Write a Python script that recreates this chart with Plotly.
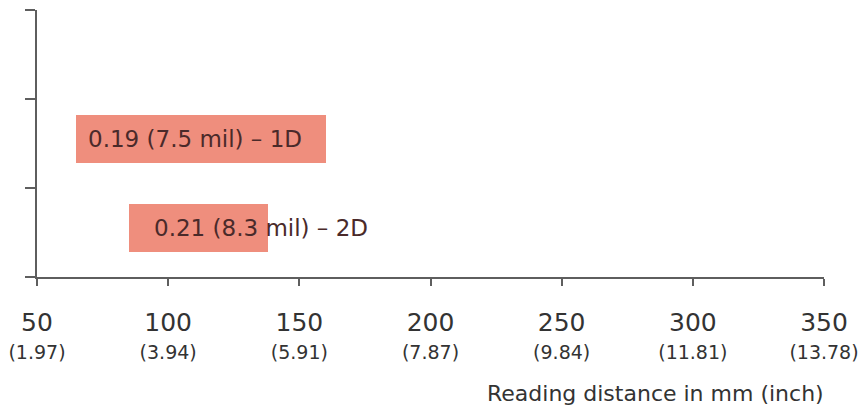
import plotly.graph_objects as go

# ---- data ----
labels = ["0.19 (7.5 mil) – 1D", "0.21 (8.3 mil) – 2D"]
range_start_mm = [65, 85]
range_end_mm = [160, 138]
x_ticks_mm = [50, 100, 150, 200, 250, 300, 350]
x_ticks_inch = ["1.97", "3.94", "5.91", "7.87", "9.84", "11.81", "13.78"]

# ---- style ----
label_offsets_px = [10, 23]
bar_color = "#EF8E7D"
axis_color = "#5e5e5e"
text_color = "#333333"
font_family = "DejaVu Sans, sans-serif"

n = len(labels)
y_pos = [n - i - 0.45 for i in range(n)]
widths = [e - s for s, e in zip(range_start_mm, range_end_mm)]

fig = go.Figure()
fig.add_trace(go.Bar(
    y=y_pos, x=widths, base=range_start_mm, orientation="h",
    width=0.53, marker=dict(color=bar_color, line=dict(width=0)),
    hoverinfo="skip", showlegend=False,
))

for yp, s, lab, off in zip(y_pos, range_start_mm, labels, label_offsets_px):
    fig.add_annotation(
        x=s, y=yp, xref="x", yref="y", text=lab, showarrow=False,
        xanchor="left", yanchor="middle", xshift=off,
        font=dict(size=23, color="#4a2a2a", family=font_family),
    )

tick_text = [f"<span style='font-size:25px'>{mm}</span><br>"
             f"<span style='font-size:19px'>({inch})</span>"
             for mm, inch in zip(x_ticks_mm, x_ticks_inch)]

fig.update_xaxes(
    range=[x_ticks_mm[0], x_ticks_mm[-1]],
    tickvals=x_ticks_mm, ticktext=tick_text,
    showgrid=False, zeroline=False, automargin=False,
    showline=True, linecolor=axis_color, linewidth=2,
    ticks="outside", ticklen=7, tickwidth=2, tickcolor=axis_color,
    ticklabelstandoff=20,
    tickfont=dict(size=21, color=text_color, family=font_family),
)
fig.update_yaxes(
    range=[0, n + 1],
    tickvals=list(range(n + 2)), ticktext=[""] * (n + 2),
    showgrid=False, zeroline=False, automargin=False,
    showline=True, linecolor=axis_color, linewidth=2,
    ticks="outside", ticklen=10, tickwidth=2, tickcolor=axis_color,
)

fig.add_annotation(
    text="Reading distance in mm (inch)", xref="paper", yref="paper",
    x=1, y=0, xanchor="right", yanchor="middle", yshift=-116, xshift=2,
    showarrow=False, font=dict(size=22, color=text_color, family=font_family),
)

fig.update_layout(
    width=862, height=408,
    margin=dict(l=37, r=38, t=10, b=131),
    plot_bgcolor="white", paper_bgcolor="white",
    bargap=0,
)

fig.write_html("out.html",
               config={"displayModeBar": False},
               post_script="document.body.style.margin='0';"
                           "document.body.style.overflow='hidden';")
